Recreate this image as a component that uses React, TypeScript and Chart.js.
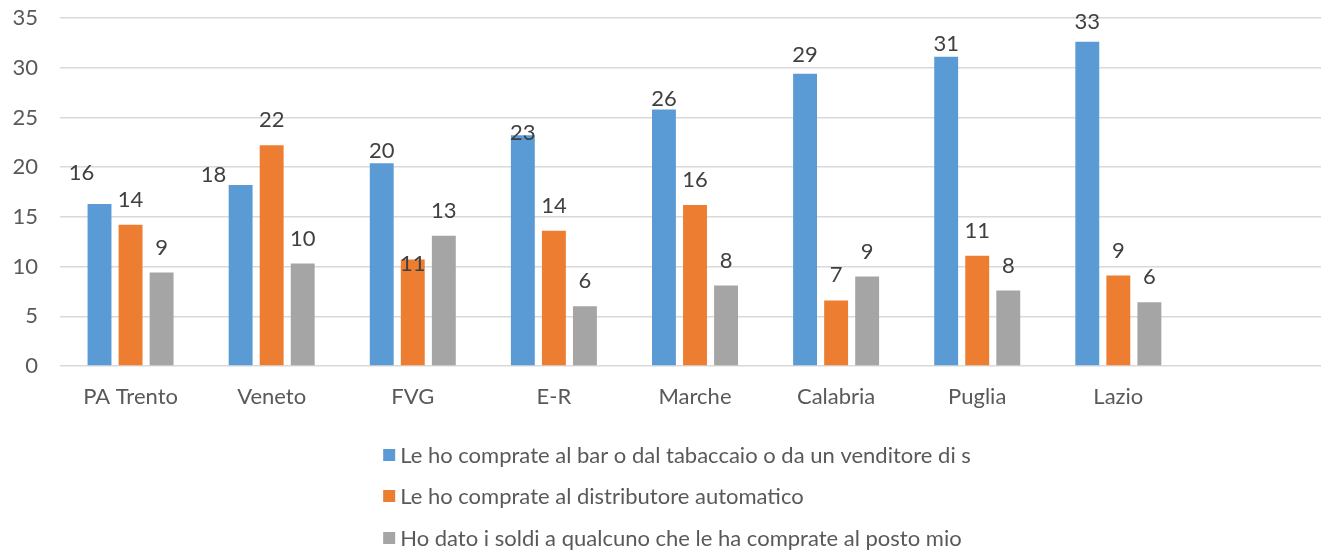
import React, { useEffect, useRef } from "react";
import { Chart, registerables } from "chart.js";

Chart.register(...registerables);

const categories = ["PA Trento", "Veneto", "FVG", "E-R", "Marche", "Calabria", "Puglia", "Lazio", ""];
const seriesNames = [
  "Le ho comprate al bar o dal tabaccaio o da un venditore di s",
  "Le ho comprate al distributore automatico",
  "Ho dato i soldi a qualcuno che le ha comprate al posto mio",
];
const barTabaccaio = [16.3, 18.2, 20.4, 23.2, 25.8, 29.4, 31.1, 32.6];
const distributore = [14.2, 22.2, 10.7, 13.6, 16.2, 6.6, 11.1, 9.1];
const qualcuno = [9.4, 10.3, 13.1, 6.0, 8.1, 9.0, 7.6, 6.4];
const seriesColors = ["#5B9BD5", "#ED7D31", "#A5A5A5"];
const yMin = 0;
const yMax = 35;
const yStep = 5;

const FONT = "Lato, 'Liberation Sans', sans-serif";
const FONT_SIZE = 22;

// relative nudges of individual data labels (as placed in the original)
const labelNudges: Record<string, [number, number]> = {
  "0-0": [-18, -6],
  "0-1": [-27, 15],
  "0-2": [0, 13],
  "0-3": [0, 23],
  "0-4": [0, 14],
  "0-5": [0, 6],
  "0-6": [0, 12],
  "0-7": [0, 5],
  "1-2": [0, 29],
};

const dataLabelPlugin = {
  id: "dataLabels",
  afterDatasetsDraw(chart: any) {
    const ctx = chart.ctx;
    ctx.save();
    ctx.font = `${FONT_SIZE}px ${FONT}`;
    ctx.fillStyle = "#404040";
    ctx.textAlign = "center";
    ctx.textBaseline = "middle";
    chart.data.datasets.forEach((ds: any, di: number) => {
      const meta = chart.getDatasetMeta(di);
      meta.data.forEach((bar: any, i: number) => {
        const v = ds.data[i];
        if (v == null) return;
        const n = labelNudges[`${di}-${i}`] || [0, 0];
        ctx.fillText(String(Math.round(v)), bar.x + n[0], bar.y - 25 + n[1]);
      });
    });
    ctx.restore();
  },
};

const legendPlugin = {
  id: "stackedLegend",
  afterDraw(chart: any) {
    const ctx = chart.ctx;
    ctx.save();
    ctx.font = `${FONT_SIZE}px ${FONT}`;
    ctx.textBaseline = "middle";
    ctx.textAlign = "left";
    const box = 12;
    const gap = 5;
    let maxW = 0;
    seriesNames.forEach((s) => (maxW = Math.max(maxW, ctx.measureText(s).width)));
    const blockW = box + gap + maxW;
    const cx = 677;
    const x0 = cx - blockW / 2;
    const base = chart.chartArea.bottom;
    const rows = [base + 89, base + 130, base + 172];
    seriesNames.forEach((s, i) => {
      ctx.fillStyle = seriesColors[i];
      ctx.fillRect(x0, rows[i] - box / 2, box, box);
      ctx.fillStyle = "#595959";
      ctx.fillText(s, x0 + box + gap, rows[i] + 1);
    });
    ctx.restore();
  },
};

export default function App() {
  const ref = useRef<HTMLCanvasElement>(null);
  useEffect(() => {
    if (!ref.current) return;
    const chart = new Chart(ref.current, {
      type: "bar",
      data: {
        labels: categories,
        datasets: [
          { label: seriesNames[0], data: barTabaccaio, backgroundColor: seriesColors[0] },
          { label: seriesNames[1], data: distributore, backgroundColor: seriesColors[1] },
          { label: seriesNames[2], data: qualcuno, backgroundColor: seriesColors[2] },
        ],
      },
      options: {
        animation: false,
        responsive: true,
        maintainAspectRatio: false,
        layout: { padding: { top: 18, right: 10, bottom: 130, left: 0 } },
        datasets: { bar: { categoryPercentage: 0.66, barPercentage: 0.77 } },
        plugins: { legend: { display: false }, tooltip: { enabled: false } },
        scales: {
          x: {
            grid: { display: false, drawTicks: false },
            border: { display: false },
            ticks: { color: "#595959", font: { family: FONT, size: FONT_SIZE }, padding: 18, maxRotation: 0 },
            afterFit: (s: any) => {
              s.height = 54;
            },
          },
          y: {
            min: yMin,
            max: yMax,
            grid: { color: "#D9D9D9", lineWidth: 1.5, drawTicks: false },
            border: { display: false },
            ticks: { stepSize: yStep, color: "#595959", font: { family: FONT, size: FONT_SIZE }, padding: 22 },
            afterFit: (s: any) => {
              s.width = 60;
              s.paddingTop = 0;
              s.paddingBottom = 0;
            },
          },
        },
      },
      plugins: [dataLabelPlugin, legendPlugin],
    });
    return () => chart.destroy();
  }, []);
  return (
    <div style={{ position: "absolute", left: 0, top: 0, width: 1321, height: 550, overflow: "hidden", background: "#fff" }}>
      <div style={{ position: "relative", width: 1340, height: 550 }}>
        <canvas ref={ref} />
      </div>
    </div>
  );
}
